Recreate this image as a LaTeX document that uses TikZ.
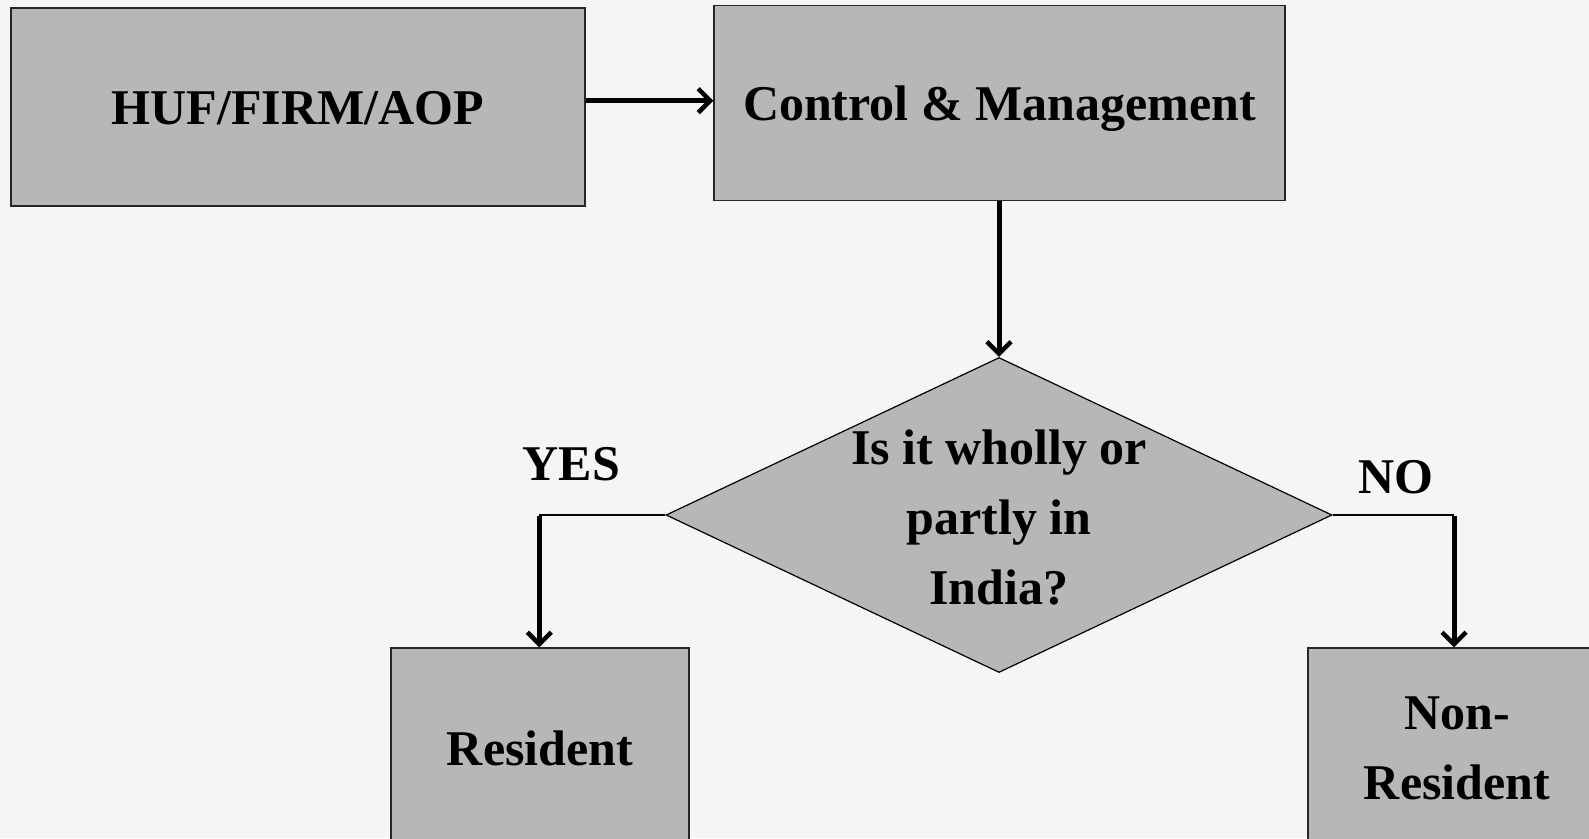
\documentclass[tikz,border=0pt]{standalone}
\usepackage{fontspec}
\setmainfont{Liberation Serif}
\usetikzlibrary{shapes.geometric,arrows.meta}
\definecolor{pagebg}{HTML}{F5F5F5}
\definecolor{boxgray}{HTML}{B7B7B7}
\begin{document}
\begin{tikzpicture}[x=1pt,y=-1pt,
  txt/.style={font=\bfseries\fontsize{50}{70}\selectfont, align=center, text=black},
  box/.style={draw=black!85, line width=1.2pt, fill=boxgray, inner sep=0pt, txt},
  oneline/.style={text height=34pt, text depth=0pt},
  decision/.style={diamond, draw=black, line width=1.2pt, fill=boxgray, inner sep=0pt},
  thinline/.style={line width=1.3pt, draw=black},
  flow/.style={line width=5pt, draw=black, -{Straight Barb[length=12pt,width=24pt,line width=4.5pt]}},
  lbl/.style={txt, anchor=base, inner sep=0pt}
]
% page
\fill[pagebg] (0,0) rectangle (1589,838);
\useasboundingbox (0,0) rectangle (1589,838);
\clip (0,0) rectangle (1589,838);

% boxes
\node[box, oneline, minimum width=574pt, minimum height=198pt] (huf) at (298,107) {HUF/FIRM/AOP};
\node[box, oneline, minimum width=571pt, minimum height=195pt] (ctrl) at (999.5,103) {Control \& Management};
\node[decision, minimum width=666pt, minimum height=315pt] (q) at (999,515) {};
\node[txt, inner sep=0pt] (qtext) at (999,517) {Is it wholly or\\partly in\\India?};
\node[box, minimum width=298pt, minimum height=200pt] (res) at (540,748) {Resident};
\node[box, minimum width=298pt, minimum height=200pt] (nres) at (1457,748) {Non-\\Resident};

% branch labels
\node[lbl] (yes) at (571.5,480) {YES};
\node[lbl] (no) at (1395.5,493) {NO};

% bends of the two branches
\coordinate (ybend) at (539.3,515);
\coordinate (nbend) at (1454,515);

% connectors
\draw[flow] ([yshift=6.3pt]huf.east) -- ([yshift=6.3pt]huf.east -| ctrl.west);
\draw[flow] (ctrl.south -| q.north) -- (q.north);
\draw[thinline] (q.west) -- (ybend);
\draw[flow] ([yshift=-0.65pt]ybend) -- (ybend |- res.north);
\draw[thinline] (q.east) -- (nbend);
\draw[flow] ([yshift=-0.65pt]nbend) -- (nbend |- nres.north);
\end{tikzpicture}
\end{document}
